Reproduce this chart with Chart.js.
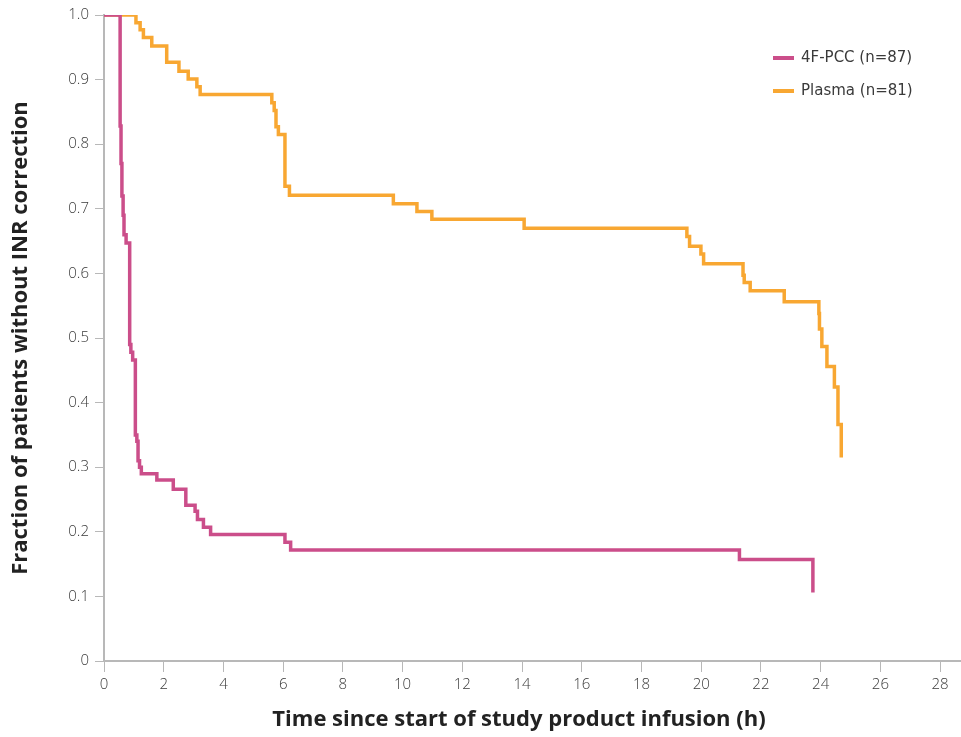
<!DOCTYPE html>
<html>
<head>
<meta charset="utf-8">
<script src="https://cdn.jsdelivr.net/npm/chart.js@4"></script>
<style>
  html, body { margin: 0; padding: 0; background: #fff; }
  #wrap { width: 961px; height: 737px; }
</style>
</head>
<body>
<div id="wrap"><canvas id="kmchart" width="961" height="737"></canvas></div>
<script>
// Kaplan-Meier steps (time in hours, fraction without INR correction)
const pccLabel = '4F-PCC (n=87)';
const pccTimes = [0, 0.54, 0.57, 0.60, 0.64, 0.67, 0.74, 0.86, 0.90, 0.96, 1.05, 1.10, 1.14, 1.19, 1.25, 1.77, 2.32, 2.74, 3.05, 3.13, 3.33, 3.57, 6.06, 6.25, 21.28, 23.74];
const pccSurv  = [1.0, 0.828, 0.77, 0.72, 0.69, 0.66, 0.647, 0.49, 0.478, 0.466, 0.35, 0.34, 0.31, 0.30, 0.29, 0.28, 0.266, 0.241, 0.232, 0.219, 0.207, 0.196, 0.184, 0.172, 0.157, 0.106];

const plasmaLabel = 'Plasma (n=81)';
const plasmaTimes = [0, 1.07, 1.21, 1.32, 1.60, 2.10, 2.51, 2.82, 3.11, 3.22, 5.62, 5.70, 5.76, 5.84, 6.06, 6.21, 9.69, 10.48, 10.98, 14.07, 19.52, 19.61, 19.99, 20.08, 21.40, 21.44, 21.64, 22.78, 23.94, 23.96, 24.04, 24.21, 24.46, 24.58, 24.69];
const plasmaSurv  = [1.0, 0.988, 0.977, 0.965, 0.952, 0.927, 0.913, 0.901, 0.889, 0.877, 0.864, 0.852, 0.827, 0.815, 0.735, 0.721, 0.708, 0.696, 0.684, 0.670, 0.657, 0.642, 0.630, 0.615, 0.597, 0.586, 0.573, 0.556, 0.538, 0.514, 0.487, 0.456, 0.424, 0.366, 0.315];

const xTitle = 'Time since start of study product infusion (h)';
const yTitle = 'Fraction of patients without INR correction';

const pink = '#cb4e8a';
const orange = '#f8a732';
const axisGrey = '#b8b8b8';

function toPoints(xs, ys) {
  return xs.map((x, i) => ({ x: x, y: ys[i] }));
}

// legend in the upper right corner + x axis title (sits a bit left of centre in the original)
const extras = {
  id: 'extras',
  afterDraw(chart) {
    const ctx = chart.ctx;
    ctx.save();
    ctx.font = '15px "DejaVu Sans"';
    ctx.textBaseline = 'middle';
    chart.data.datasets.forEach((ds, i) => {
      const y = 58 + i * 33;
      ctx.strokeStyle = ds.borderColor;
      ctx.lineWidth = 4;
      ctx.beginPath();
      ctx.moveTo(773, y);
      ctx.lineTo(794, y);
      ctx.stroke();
      ctx.fillStyle = '#3a3a3a';
      ctx.fillText(ds.label, 801, y);
    });
    ctx.font = 'bold 22px "Open Sans"';
    ctx.textAlign = 'center';
    ctx.fillStyle = '#222';
    ctx.fillText(xTitle, 519, 720);
    ctx.restore();
  }
};

new Chart(document.getElementById('kmchart'), {
  type: 'line',
  data: {
    datasets: [{
      label: pccLabel,
      data: toPoints(pccTimes, pccSurv),
      borderColor: pink,
      borderWidth: 3.5,
      stepped: true,
      pointRadius: 0,
      fill: false
    }, {
      label: plasmaLabel,
      data: toPoints(plasmaTimes, plasmaSurv),
      borderColor: orange,
      borderWidth: 3.5,
      stepped: true,
      pointRadius: 0,
      fill: false
    }]
  },
  options: {
    responsive: false,
    animation: false,
    layout: { padding: { top: 14, right: 0, left: 0, bottom: 0 } },
    plugins: {
      legend: { display: false },
      tooltip: { enabled: false }
    },
    scales: {
      x: {
        type: 'linear',
        min: 0,
        max: 28.7,
        border: { color: axisGrey, width: 2 },
        grid: { drawOnChartArea: false, color: axisGrey, tickLength: 11 },
        ticks: {
          stepSize: 2,
          includeBounds: false,
          color: '#3a3a3a',
          padding: 4,
          font: { family: 'Open Sans', size: 15, weight: 300 }
        },
        afterFit(scale) { scale.height = 76; }
      },
      y: {
        min: 0,
        max: 1,
        border: { color: axisGrey, width: 2 },
        grid: { drawOnChartArea: false, color: axisGrey, tickLength: 9 },
        ticks: {
          stepSize: 0.1,
          color: '#3a3a3a',
          padding: 6,
          font: { family: 'Open Sans', size: 15, weight: 300 },
          callback: v => v === 0 ? '0' : v.toFixed(1)
        },
        title: {
          display: true,
          text: yTitle,
          color: '#222',
          font: { family: 'Open Sans', size: 22, weight: 'bold' },
          padding: { top: 8, bottom: 0 }
        },
        afterFit(scale) { scale.width = 104; }
      }
    }
  },
  plugins: [extras]
});
</script>
</body>
</html>
